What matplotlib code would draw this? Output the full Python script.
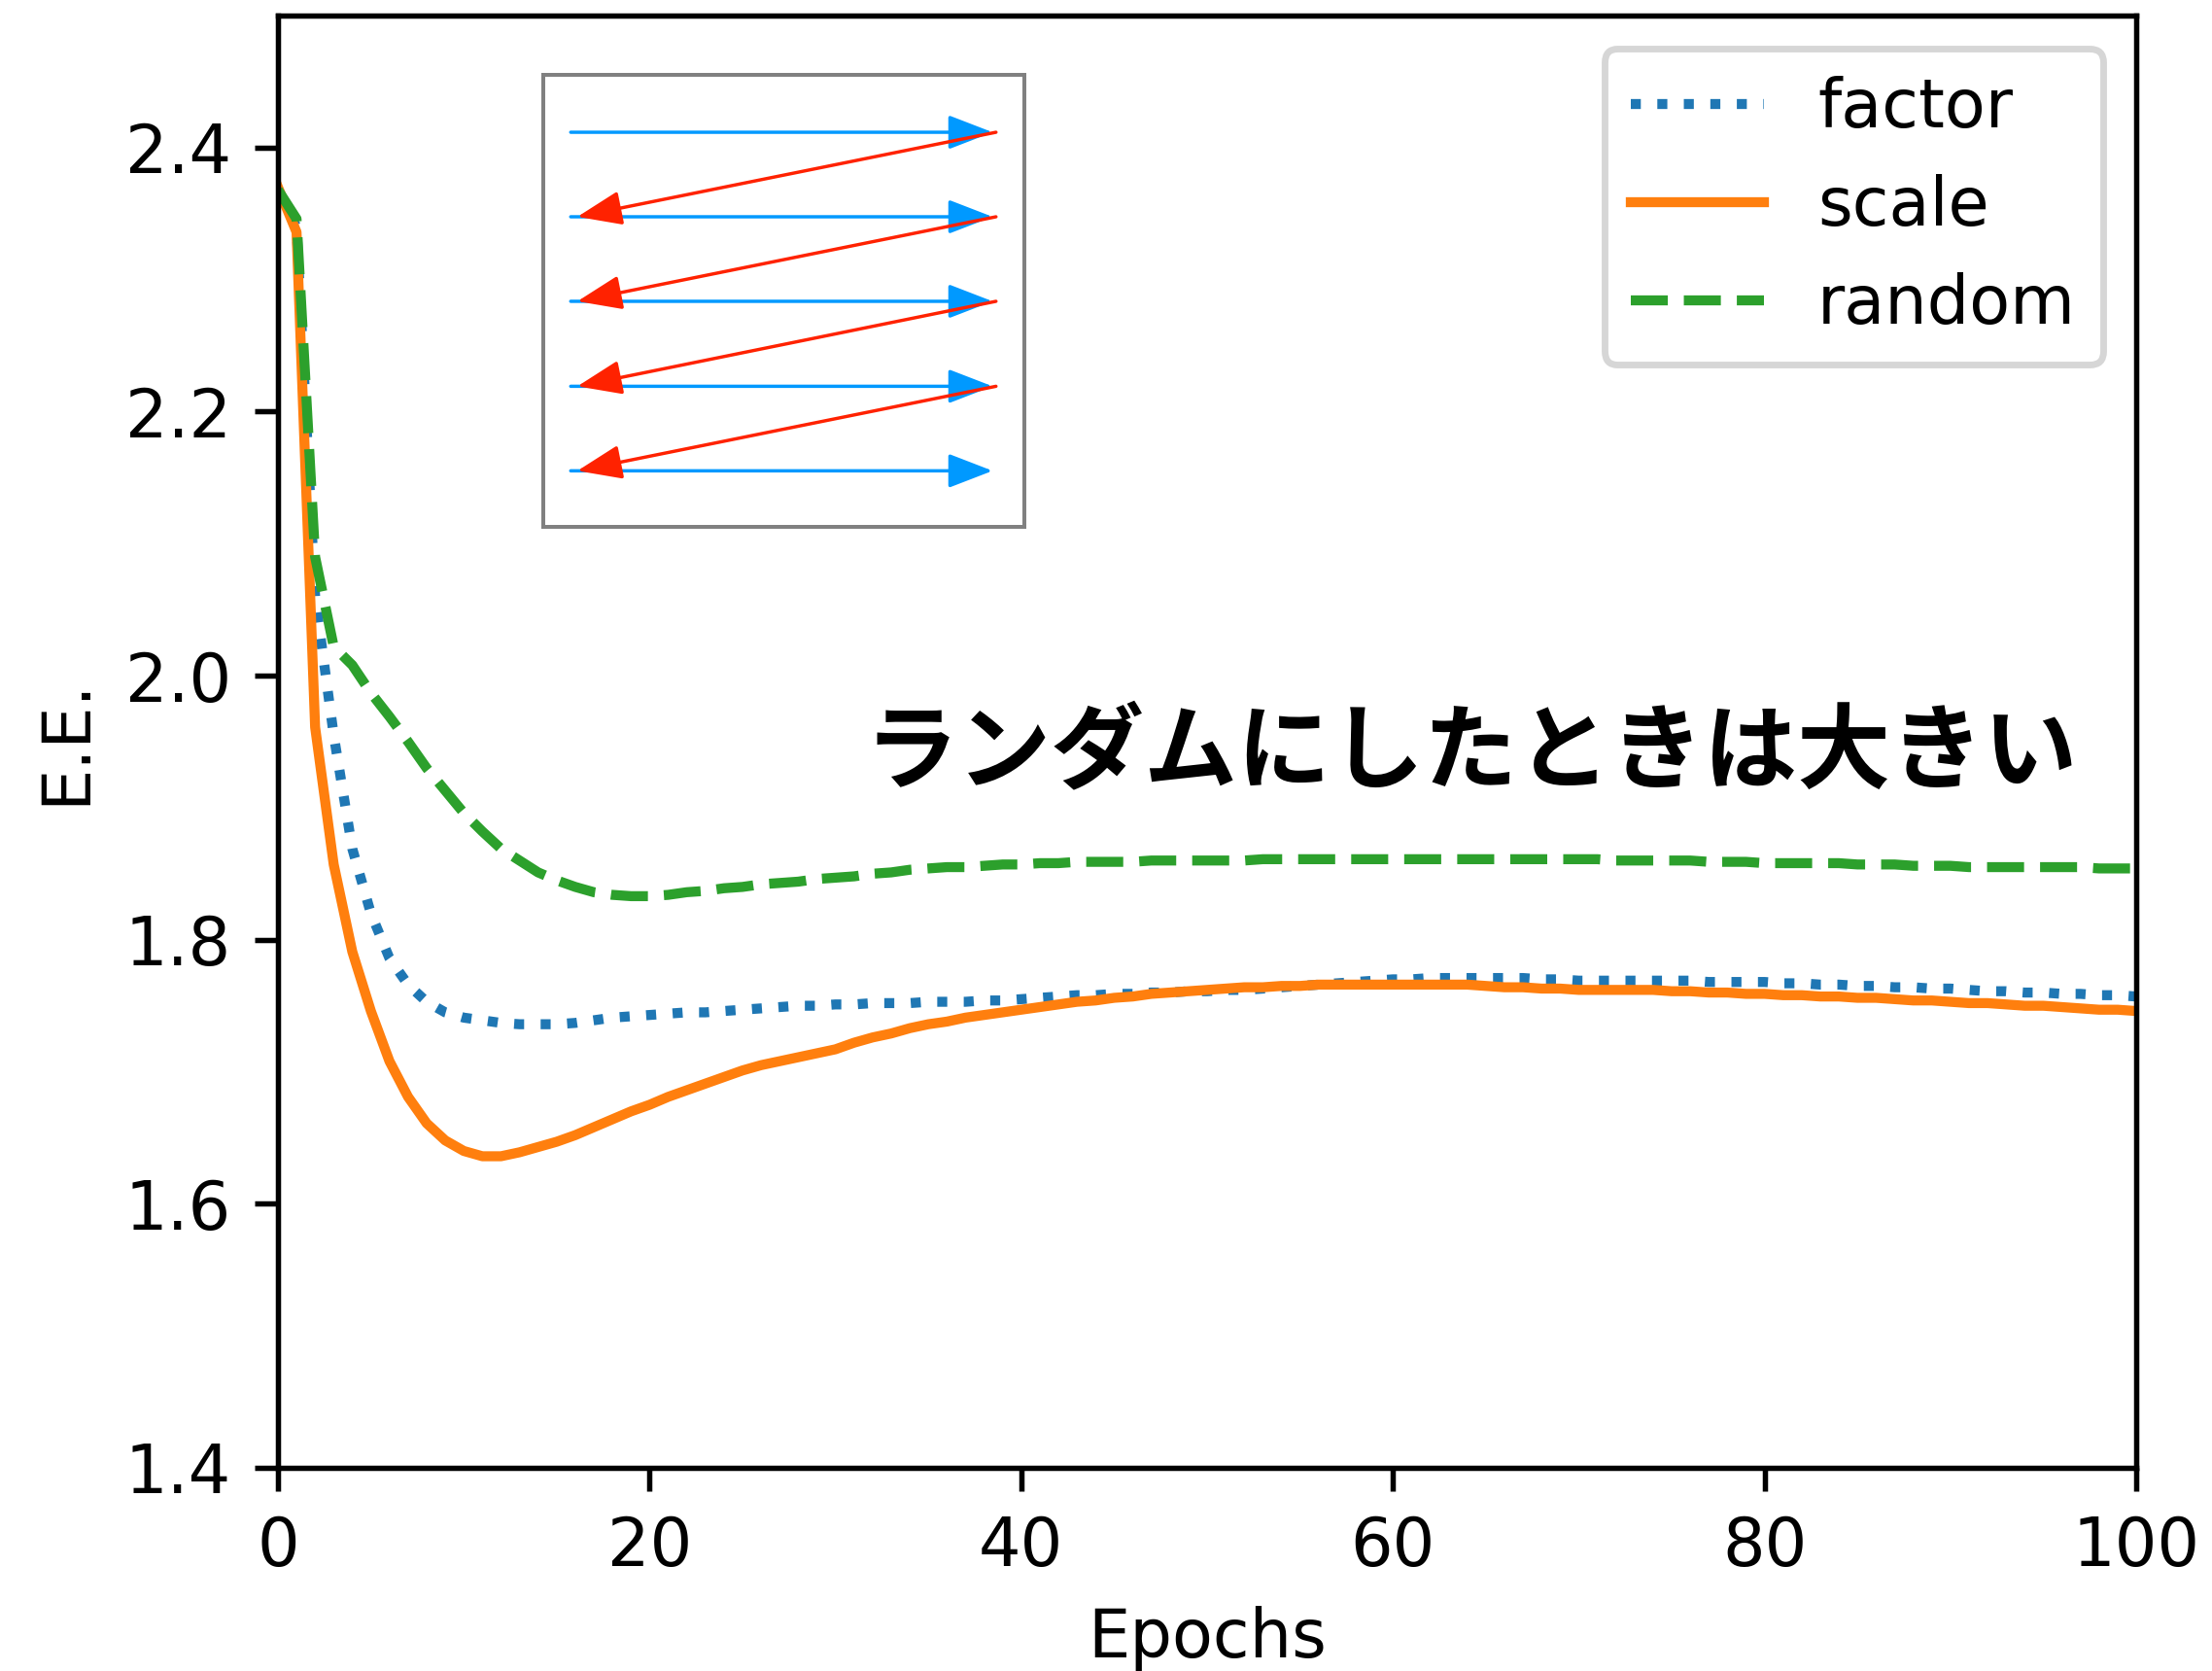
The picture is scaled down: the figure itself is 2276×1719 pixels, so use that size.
import matplotlib
matplotlib.use("Agg")
import matplotlib.pyplot as plt

epochs = list(range(101))

factor = [2.365, 2.340, 2.060, 1.955, 1.869, 1.820, 1.786, 1.766, 1.753, 1.745,
          1.741, 1.739, 1.737, 1.736, 1.736, 1.736, 1.737, 1.739, 1.741, 1.742,
          1.743, 1.744, 1.745, 1.745, 1.746, 1.747, 1.748, 1.749, 1.750, 1.750,
          1.751, 1.751, 1.752, 1.752, 1.752, 1.753, 1.753, 1.753, 1.754, 1.754,
          1.755, 1.756, 1.757, 1.758, 1.758, 1.759, 1.759, 1.760, 1.760, 1.761,
          1.761, 1.762, 1.762, 1.763, 1.764, 1.765, 1.766, 1.767, 1.768, 1.769,
          1.770, 1.770, 1.771, 1.771, 1.771, 1.771, 1.771, 1.771, 1.770, 1.770,
          1.769, 1.769, 1.769, 1.769, 1.769, 1.769, 1.769, 1.768, 1.768, 1.768,
          1.768, 1.767, 1.767, 1.766, 1.766, 1.765, 1.765, 1.764, 1.764, 1.763,
          1.763, 1.762, 1.761, 1.761, 1.760, 1.760, 1.759, 1.759, 1.758, 1.758,
          1.757]

scale = [2.370, 2.336, 1.961, 1.857, 1.791, 1.746, 1.708, 1.681, 1.661, 1.648,
         1.640, 1.636, 1.636, 1.639, 1.643, 1.647, 1.652, 1.658, 1.664, 1.670,
         1.675, 1.681, 1.686, 1.691, 1.696, 1.701, 1.705, 1.708, 1.711, 1.714,
         1.717, 1.722, 1.726, 1.729, 1.733, 1.736, 1.738, 1.741, 1.743, 1.745,
         1.747, 1.749, 1.751, 1.753, 1.754, 1.756, 1.757, 1.759, 1.760, 1.761,
         1.762, 1.763, 1.764, 1.764, 1.765, 1.765, 1.766, 1.766, 1.766, 1.766,
         1.766, 1.766, 1.766, 1.766, 1.766, 1.765, 1.764, 1.764, 1.763, 1.763,
         1.762, 1.762, 1.762, 1.762, 1.762, 1.761, 1.761, 1.760, 1.760, 1.759,
         1.759, 1.758, 1.758, 1.757, 1.757, 1.756, 1.756, 1.755, 1.754, 1.754,
         1.753, 1.752, 1.752, 1.751, 1.750, 1.750, 1.749, 1.748, 1.747, 1.747,
         1.746]

random_ = [2.368, 2.346, 2.090, 2.022, 2.008, 1.987, 1.969, 1.950, 1.930, 1.913,
           1.896, 1.882, 1.869, 1.860, 1.851, 1.845, 1.840, 1.836, 1.834, 1.833,
           1.833, 1.834, 1.836, 1.837, 1.839, 1.840, 1.842, 1.843, 1.844, 1.846,
           1.847, 1.848, 1.850, 1.851, 1.853, 1.854, 1.855, 1.855, 1.856, 1.857,
           1.857, 1.858, 1.858, 1.859, 1.859, 1.859, 1.859, 1.860, 1.860, 1.860,
           1.860, 1.860, 1.860, 1.861, 1.861, 1.861, 1.861, 1.861, 1.861, 1.861,
           1.861, 1.861, 1.861, 1.861, 1.861, 1.861, 1.861, 1.861, 1.861, 1.861,
           1.861, 1.861, 1.860, 1.860, 1.860, 1.860, 1.860, 1.859, 1.859, 1.859,
           1.858, 1.858, 1.858, 1.858, 1.858, 1.857, 1.857, 1.857, 1.856, 1.856,
           1.856, 1.855, 1.855, 1.855, 1.855, 1.855, 1.855, 1.855, 1.854, 1.854,
           1.854]

# inset diagram: row heights (axes fraction) and arrow ends
rows = [0.873, 0.686, 0.499, 0.311, 0.124]
row_start, row_end = 0.057, 0.934
back_start, back_end = 0.941, 0.071

plt.rcParams['font.family'] = ['DejaVu Sans']

DPI = 494
fig = plt.figure(figsize=(2276 / DPI, 1719 / DPI), dpi=DPI)
ax = fig.add_axes([286 / 2276, 1 - 1510 / 1719, 1912 / 2276, 1494 / 1719])

ax.plot(epochs, factor, ':', color='tab:blue', label='factor')
ax.plot(epochs, scale, '-', color='tab:orange', label='scale')
ax.plot(epochs, random_, '--', color='tab:green', label='random')
ax.set_xlim(0, 100)
ax.set_ylim(1.4, 2.5)
ax.set_yticks([1.4, 1.6, 1.8, 2.0, 2.2, 2.4])
ax.set_xlabel('Epochs')
ax.set_ylabel('E.E.')
ax.legend(loc='upper right')

ax.text(64.2, 1.941, 'ランダムにしたときは大きい', fontsize=14, fontweight='bold',
        family=['Noto Sans CJK JP', 'DejaVu Sans'], ha='center', va='center')

# inset with the scan-order arrows
ins = fig.add_axes([559 / 2276, 1 - 542 / 1719, 495 / 2276, 465 / 1719])
ins.set_xlim(0, 1)
ins.set_ylim(0, 1)
ins.set_xticks([])
ins.set_yticks([])
for s in ins.spines.values():
    s.set_color('#808080')
    s.set_linewidth(0.58)

style = '-|>,head_length=0.57,head_width=0.22'
for y in rows:
    ins.annotate('', xy=(row_end, y), xytext=(row_start, y),
                 arrowprops=dict(arrowstyle=style, color='#0099ff', lw=0.5,
                                 shrinkA=0, shrinkB=0, mutation_scale=10))
for y0, y1 in zip(rows[:-1], rows[1:]):
    ins.annotate('', xy=(back_end, y1), xytext=(back_start, y0),
                 arrowprops=dict(arrowstyle=style, color='#ff2200', lw=0.5,
                                 shrinkA=0, shrinkB=0, mutation_scale=10))

fig.savefig('out.png', dpi=DPI)
